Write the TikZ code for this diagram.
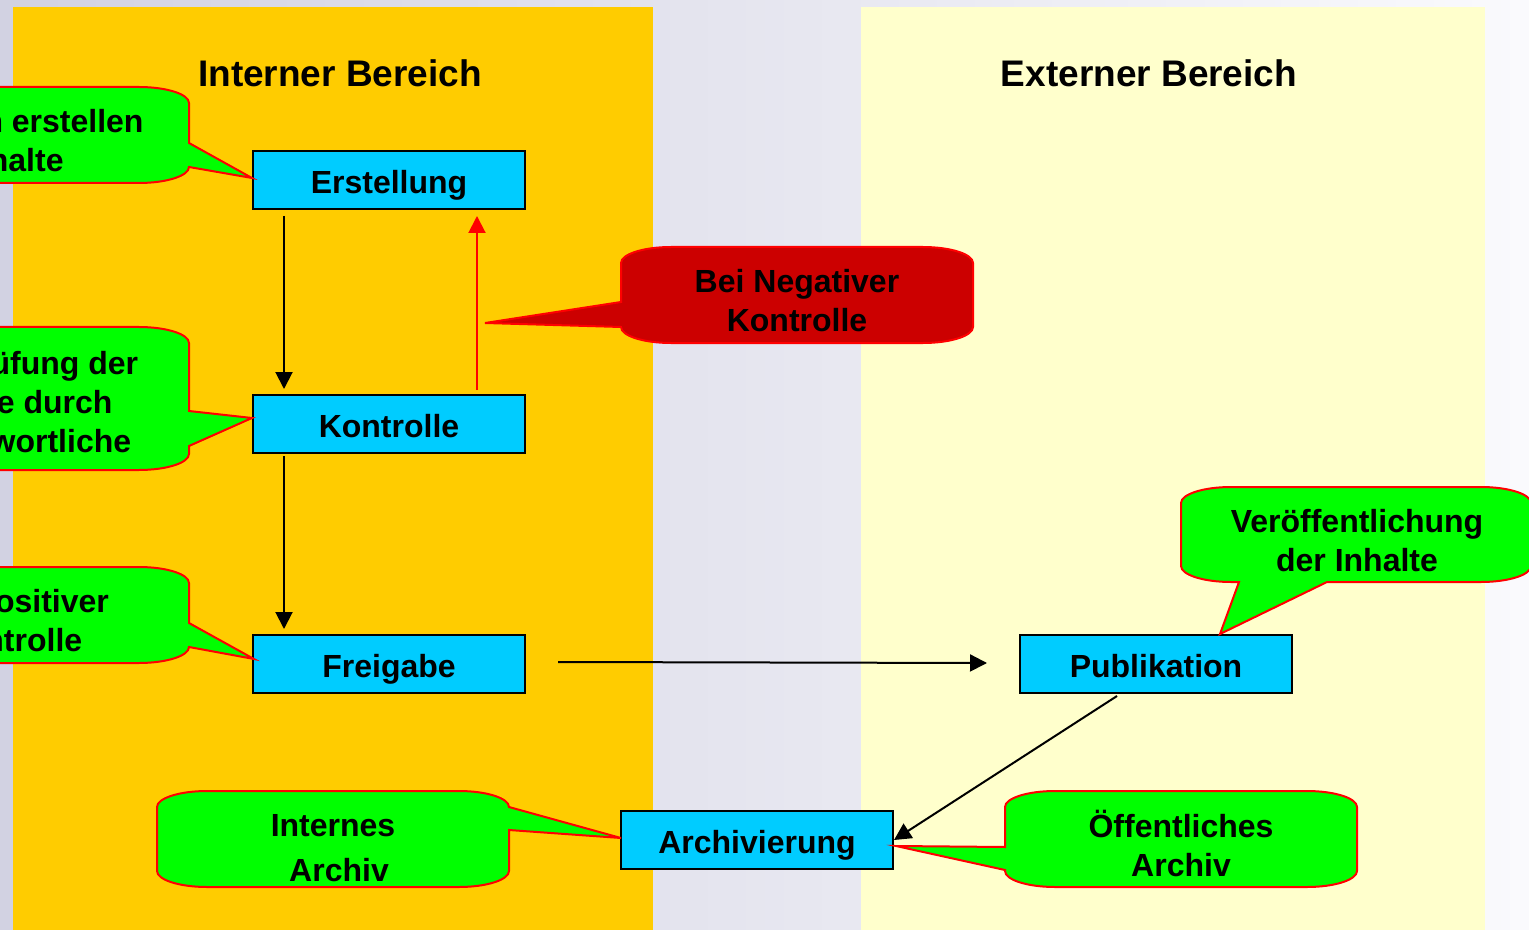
\documentclass[tikz,border=0pt]{standalone}
\usepackage{fontspec}
\setmainfont{Liberation Sans}
\usetikzlibrary{arrows.meta}
\definecolor{orangep}{HTML}{FFCC00}
\definecolor{yellowp}{HTML}{FFFFCC}
\definecolor{boxblue}{HTML}{00CCFF}
\definecolor{callgreen}{HTML}{00FF00}
\definecolor{callred}{HTML}{CC0000}
\definecolor{bgleft}{HTML}{D2D2E2}
\definecolor{bgright}{HTML}{FAFAFD}
% #1 style, #2 L, #3 T, #4 R, #5 B, #6 right-side insert, #7 bottom insert, #8 left-side insert
\newcommand\mycallout[8]{%
  \draw[#1] (#2+50,#3) -- (#4-50,#3)
    .. controls (#4-22.4,#3) and (#4,#3+7.2) .. (#4,#3+16) #6
    -- (#4,#5-16) .. controls (#4,#5-7.2) and (#4-22.4,#5) .. (#4-50,#5) #7
    -- (#2+50,#5) .. controls (#2+22.4,#5) and (#2,#5-7.2) .. (#2,#5-16) #8
    -- (#2,#3+16) .. controls (#2,#3+7.2) and (#2+22.4,#3) .. (#2+50,#3) -- cycle;}
\begin{document}
\begin{tikzpicture}[x=0.5pt,y=-0.5pt,
  stepbox/.style={draw=black, line width=1pt, fill=boxblue, minimum width=136pt, minimum height=29pt, inner sep=0pt, text height=14pt, text depth=0.8pt, font=\fontsize{16}{19.5}\selectfont\bfseries},
  titletext/.style={font=\fontsize{18.5}{22}\selectfont\bfseries},
  ctext/.style={align=center, inner sep=0pt, font=\fontsize{16}{19.5}\selectfont\bfseries},
  gcall/.style={draw=red, line width=1pt, fill=callgreen, line join=miter},
  rcall/.style={draw=red, line width=1pt, fill=callred, line join=miter},
  arr/.style={draw=black, line width=1pt, -{Triangle[length=8.5pt,width=8.5pt]}},
  rarr/.style={draw=red, line width=1pt, -{Triangle[length=8.5pt,width=8.5pt]}}]
\useasboundingbox (0,0) rectangle (1529,930);
\clip (0,0) rectangle (1529,930);
% background
\shade[left color=bgleft, right color=bgright] (0,0) rectangle (1529,930);
\fill[orangep] (13,7) rectangle (653,930);
\fill[yellowp] (861,7) rectangle (1485,930);
% titles
\node[titletext] (tint) at (340,73) {Interner Bereich};
\node[titletext] (text) at (1149,73) {Externer Bereich};
% boxes
\node[stepbox] (erst) at (389,180) {Erstellung};
\node[stepbox] (kontr) at (389,424) {Kontrolle};
\node[stepbox] (frei) at (389,664) {Freigabe};
\node[stepbox] (pub) at (1156,664) {Publikation};
\node[stepbox] (arch) at (757,840) {Archivierung};
% connectors
\draw[arr] ([xshift=16pt,yshift=-3pt]erst.south west) -- ([xshift=16pt,yshift=2.5pt]kontr.north west);
\draw[arr] ([xshift=16pt,yshift=-1pt]kontr.south west) -- ([xshift=16pt,yshift=2.5pt]frei.north west);
\draw[rarr] ([xshift=44pt,yshift=2pt]kontr.north) -- ([xshift=44pt,yshift=-3pt]erst.south);
\draw[arr] ([xshift=16pt,yshift=1pt]frei.east) -- ([xshift=-16pt,yshift=0.5pt]pub.west);
\draw[arr] ([xshift=-19.5pt,yshift=-1pt]pub.south) -- (arch.east);
% callouts
\mycallout{gcall}{-166}{87}{189}{183}{-- (189,143) -- ([yshift=1pt]erst.west) -- (189,167)}{}{}
\node[ctext] (c1) at (12,141) {Autoren erstellen\\Inhalte};
\mycallout{gcall}{-166}{327}{189}{470}{-- (189,411) -- ([yshift=3pt]kontr.west) -- (189,446)}{}{}
\node[ctext] (c2) at (12,400) {Überprüfung der\\Inhalte durch\\Verantwortliche};
\mycallout{gcall}{-166}{567}{189}{663}{-- (189,623) -- ([xshift=1pt,yshift=2.5pt]frei.west) -- (189,647)}{}{}
\node[ctext] (c3) at (12,621) {Bei Positiver\\Kontrolle};
\mycallout{gcall}{157}{791}{509}{887}{-- (509,807) -- ([xshift=0.5pt,yshift=1pt]arch.west) -- (509,830)}{}{}
\node[ctext, font=\fontsize{16}{22.5}\selectfont\bfseries] (c4) at (333,848) {Internes\\\hspace*{6pt}Archiv};
\mycallout{gcall}{1005}{791}{1357}{887}{}{}{-- (1005,870) -- ([xshift=1pt,yshift=-3pt]arch.east) -- (1005,847)}
\node[ctext] (c5) at (1181,843) {Öffentliches\\Archiv};
\mycallout{gcall}{1181}{487}{1531}{582}{}{-- (1327,582) -- ([xshift=32pt]pub.north) -- (1239,582)}{}
\node[ctext] (c6) at (1357,541) {Veröffentlichung\\der Inhalte};
\mycallout{rcall}{621}{247}{973}{343}{}{}{-- (621,327) -- ([xshift=48pt,yshift=35.5pt]kontr.north) -- (621,302)}
\node[ctext] (c7) at (797,301) {Bei Negativer\\Kontrolle};
\end{tikzpicture}
\end{document}
